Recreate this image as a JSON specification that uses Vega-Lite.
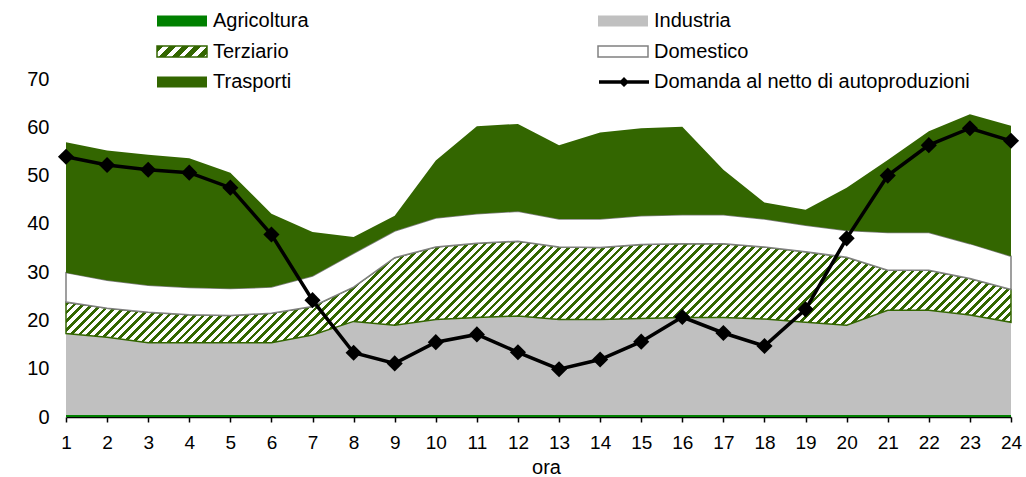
{
"$schema": "https://vega.github.io/schema/vega-lite/v6.json",
"width": 945,
"height": 338,
"autosize": {"type": "none"},
"padding": {"left": 66, "top": 79, "right": 15, "bottom": 60},
"config": {
  "font": "Liberation Sans",
  "view": {"stroke": null},
  "axis": {"grid": false, "labelColor": "black", "titleColor": "black", "labelFont": "Liberation Sans", "titleFont": "Liberation Sans"},
  "legend": {"labelFont": "Liberation Sans", "labelColor": "black", "labelLimit": 500}
},
"datasets": {
  "settori": [
    {"ora":1,"settore":"Agricoltura","ord":1,"valore":0.4},{"ora":1,"settore":"Industria","ord":2,"valore":16.9},{"ora":1,"settore":"Terziario","ord":3,"valore":6.5},{"ora":1,"settore":"Domestico","ord":4,"valore":6.1},{"ora":1,"settore":"Trasporti","ord":5,"valore":27.0},
    {"ora":2,"settore":"Agricoltura","ord":1,"valore":0.4},{"ora":2,"settore":"Industria","ord":2,"valore":16.1},{"ora":2,"settore":"Terziario","ord":3,"valore":6.0},{"ora":2,"settore":"Domestico","ord":4,"valore":5.8},{"ora":2,"settore":"Trasporti","ord":5,"valore":26.9},
    {"ora":3,"settore":"Agricoltura","ord":1,"valore":0.4},{"ora":3,"settore":"Industria","ord":2,"valore":15.0},{"ora":3,"settore":"Terziario","ord":3,"valore":6.3},{"ora":3,"settore":"Domestico","ord":4,"valore":5.6},{"ora":3,"settore":"Trasporti","ord":5,"valore":27.0},
    {"ora":4,"settore":"Agricoltura","ord":1,"valore":0.4},{"ora":4,"settore":"Industria","ord":2,"valore":15.0},{"ora":4,"settore":"Terziario","ord":3,"valore":5.8},{"ora":4,"settore":"Domestico","ord":4,"valore":5.6},{"ora":4,"settore":"Trasporti","ord":5,"valore":26.8},
    {"ora":5,"settore":"Agricoltura","ord":1,"valore":0.4},{"ora":5,"settore":"Industria","ord":2,"valore":15.0},{"ora":5,"settore":"Terziario","ord":3,"valore":5.6},{"ora":5,"settore":"Domestico","ord":4,"valore":5.6},{"ora":5,"settore":"Trasporti","ord":5,"valore":24.0},
    {"ora":6,"settore":"Agricoltura","ord":1,"valore":0.4},{"ora":6,"settore":"Industria","ord":2,"valore":15.0},{"ora":6,"settore":"Terziario","ord":3,"valore":6.1},{"ora":6,"settore":"Domestico","ord":4,"valore":5.4},{"ora":6,"settore":"Trasporti","ord":5,"valore":15.2},
    {"ora":7,"settore":"Agricoltura","ord":1,"valore":0.4},{"ora":7,"settore":"Industria","ord":2,"valore":16.6},{"ora":7,"settore":"Terziario","ord":3,"valore":5.9},{"ora":7,"settore":"Domestico","ord":4,"valore":6.3},{"ora":7,"settore":"Trasporti","ord":5,"valore":9.1},
    {"ora":8,"settore":"Agricoltura","ord":1,"valore":0.4},{"ora":8,"settore":"Industria","ord":2,"valore":19.4},{"ora":8,"settore":"Terziario","ord":3,"valore":7.1},{"ora":8,"settore":"Domestico","ord":4,"valore":7.0},{"ora":8,"settore":"Trasporti","ord":5,"valore":3.4},
    {"ora":9,"settore":"Agricoltura","ord":1,"valore":0.4},{"ora":9,"settore":"Industria","ord":2,"valore":18.6},{"ora":9,"settore":"Terziario","ord":3,"valore":14.0},{"ora":9,"settore":"Domestico","ord":4,"valore":5.5},{"ora":9,"settore":"Trasporti","ord":5,"valore":3.2},
    {"ora":10,"settore":"Agricoltura","ord":1,"valore":0.4},{"ora":10,"settore":"Industria","ord":2,"valore":19.8},{"ora":10,"settore":"Terziario","ord":3,"valore":15.0},{"ora":10,"settore":"Domestico","ord":4,"valore":6.0},{"ora":10,"settore":"Trasporti","ord":5,"valore":11.9},
    {"ora":11,"settore":"Agricoltura","ord":1,"valore":0.4},{"ora":11,"settore":"Industria","ord":2,"valore":20.2},{"ora":11,"settore":"Terziario","ord":3,"valore":15.4},{"ora":11,"settore":"Domestico","ord":4,"valore":6.1},{"ora":11,"settore":"Trasporti","ord":5,"valore":18.1},
    {"ora":12,"settore":"Agricoltura","ord":1,"valore":0.4},{"ora":12,"settore":"Industria","ord":2,"valore":20.5},{"ora":12,"settore":"Terziario","ord":3,"valore":15.5},{"ora":12,"settore":"Domestico","ord":4,"valore":6.2},{"ora":12,"settore":"Trasporti","ord":5,"valore":18.1},
    {"ora":13,"settore":"Agricoltura","ord":1,"valore":0.4},{"ora":13,"settore":"Industria","ord":2,"valore":19.8},{"ora":13,"settore":"Terziario","ord":3,"valore":15.0},{"ora":13,"settore":"Domestico","ord":4,"valore":5.8},{"ora":13,"settore":"Trasporti","ord":5,"valore":15.3},
    {"ora":14,"settore":"Agricoltura","ord":1,"valore":0.4},{"ora":14,"settore":"Industria","ord":2,"valore":19.8},{"ora":14,"settore":"Terziario","ord":3,"valore":14.9},{"ora":14,"settore":"Domestico","ord":4,"valore":5.9},{"ora":14,"settore":"Trasporti","ord":5,"valore":17.9},
    {"ora":15,"settore":"Agricoltura","ord":1,"valore":0.4},{"ora":15,"settore":"Industria","ord":2,"valore":20.0},{"ora":15,"settore":"Terziario","ord":3,"valore":15.3},{"ora":15,"settore":"Domestico","ord":4,"valore":6.0},{"ora":15,"settore":"Trasporti","ord":5,"valore":18.1},
    {"ora":16,"settore":"Agricoltura","ord":1,"valore":0.4},{"ora":16,"settore":"Industria","ord":2,"valore":20.2},{"ora":16,"settore":"Terziario","ord":3,"valore":15.3},{"ora":16,"settore":"Domestico","ord":4,"valore":6.0},{"ora":16,"settore":"Trasporti","ord":5,"valore":18.2},
    {"ora":17,"settore":"Agricoltura","ord":1,"valore":0.4},{"ora":17,"settore":"Industria","ord":2,"valore":20.2},{"ora":17,"settore":"Terziario","ord":3,"valore":15.3},{"ora":17,"settore":"Domestico","ord":4,"valore":6.0},{"ora":17,"settore":"Trasporti","ord":5,"valore":9.3},
    {"ora":18,"settore":"Agricoltura","ord":1,"valore":0.4},{"ora":18,"settore":"Industria","ord":2,"valore":19.9},{"ora":18,"settore":"Terziario","ord":3,"valore":14.9},{"ora":18,"settore":"Domestico","ord":4,"valore":5.8},{"ora":18,"settore":"Trasporti","ord":5,"valore":3.4},
    {"ora":19,"settore":"Agricoltura","ord":1,"valore":0.4},{"ora":19,"settore":"Industria","ord":2,"valore":19.2},{"ora":19,"settore":"Terziario","ord":3,"valore":14.6},{"ora":19,"settore":"Domestico","ord":4,"valore":5.5},{"ora":19,"settore":"Trasporti","ord":5,"valore":3.2},
    {"ora":20,"settore":"Agricoltura","ord":1,"valore":0.4},{"ora":20,"settore":"Industria","ord":2,"valore":18.6},{"ora":20,"settore":"Terziario","ord":3,"valore":14.1},{"ora":20,"settore":"Domestico","ord":4,"valore":5.5},{"ora":20,"settore":"Trasporti","ord":5,"valore":8.9},
    {"ora":21,"settore":"Agricoltura","ord":1,"valore":0.4},{"ora":21,"settore":"Industria","ord":2,"valore":21.7},{"ora":21,"settore":"Terziario","ord":3,"valore":8.3},{"ora":21,"settore":"Domestico","ord":4,"valore":7.8},{"ora":21,"settore":"Trasporti","ord":5,"valore":15.0},
    {"ora":22,"settore":"Agricoltura","ord":1,"valore":0.4},{"ora":22,"settore":"Industria","ord":2,"valore":21.7},{"ora":22,"settore":"Terziario","ord":3,"valore":8.3},{"ora":22,"settore":"Domestico","ord":4,"valore":7.8},{"ora":22,"settore":"Trasporti","ord":5,"valore":21.0},
    {"ora":23,"settore":"Agricoltura","ord":1,"valore":0.4},{"ora":23,"settore":"Industria","ord":2,"valore":20.7},{"ora":23,"settore":"Terziario","ord":3,"valore":7.6},{"ora":23,"settore":"Domestico","ord":4,"valore":7.2},{"ora":23,"settore":"Trasporti","ord":5,"valore":26.8},
    {"ora":24,"settore":"Agricoltura","ord":1,"valore":0.4},{"ora":24,"settore":"Industria","ord":2,"valore":19.2},{"ora":24,"settore":"Terziario","ord":3,"valore":6.8},{"ora":24,"settore":"Domestico","ord":4,"valore":6.9},{"ora":24,"settore":"Trasporti","ord":5,"valore":27.0}
  ],
  "domanda": [
    {"ora":1,"domanda":53.9},{"ora":2,"domanda":52.2},{"ora":3,"domanda":51.2},{"ora":4,"domanda":50.6},{"ora":5,"domanda":47.5},{"ora":6,"domanda":37.8},
    {"ora":7,"domanda":24.2},{"ora":8,"domanda":13.3},{"ora":9,"domanda":11.1},{"ora":10,"domanda":15.5},{"ora":11,"domanda":17.1},{"ora":12,"domanda":13.4},
    {"ora":13,"domanda":9.9},{"ora":14,"domanda":11.9},{"ora":15,"domanda":15.6},{"ora":16,"domanda":20.7},{"ora":17,"domanda":17.4},{"ora":18,"domanda":14.7},
    {"ora":19,"domanda":22.3},{"ora":20,"domanda":37.0},{"ora":21,"domanda":50.0},{"ora":22,"domanda":56.3},{"ora":23,"domanda":59.8},{"ora":24,"domanda":57.2}
  ]
},
"encoding": {
  "x": {"field": "ora", "type": "quantitative",
    "scale": {"domain": [1, 24], "nice": false, "zero": false},
    "axis": {"title": "ora", "values": [1,2,3,4,5,6,7,8,9,10,11,12,13,14,15,16,17,18,19,20,21,22,23,24],
      "labelFontSize": 19, "labelFlush": false, "labelOverlap": false, "labelPadding": 11,
      "tickSize": 5, "tickColor": "black", "tickWidth": 1.5,
      "domainColor": "black", "domainWidth": 1.5,
      "titleFontSize": 20, "titleFontWeight": "normal", "titlePadding": 5, "titleX": 480}}
},
"layer": [
  {
    "data": {"name": "settori"},
    "transform": [
      {"stack": "valore", "groupby": ["ora"], "sort": [{"field": "ord"}], "as": ["y0", "y1"]},
      {"filter": "datum.settore === 'Terziario'"}
    ],
    "mark": {"type": "area", "fill": {"gradient": "linear", "x1": 0, "y1": 0, "x2": 1.144, "y2": 0.1229, "stops": [
      {"offset":0.048,"color":"#360"},{"offset":0.0515,"color":"#360"},{"offset":0.0515,"color":"#fff"},{"offset":0.056,"color":"#fff"},
      {"offset":0.056,"color":"#360"},{"offset":0.0595,"color":"#360"},{"offset":0.0595,"color":"#fff"},{"offset":0.064,"color":"#fff"},
      {"offset":0.064,"color":"#360"},{"offset":0.0675,"color":"#360"},{"offset":0.0675,"color":"#fff"},{"offset":0.072,"color":"#fff"},
      {"offset":0.072,"color":"#360"},{"offset":0.0755,"color":"#360"},{"offset":0.0755,"color":"#fff"},{"offset":0.08,"color":"#fff"},
      {"offset":0.08,"color":"#360"},{"offset":0.0835,"color":"#360"},{"offset":0.0835,"color":"#fff"},{"offset":0.088,"color":"#fff"},
      {"offset":0.088,"color":"#360"},{"offset":0.0915,"color":"#360"},{"offset":0.0915,"color":"#fff"},{"offset":0.096,"color":"#fff"},
      {"offset":0.096,"color":"#360"},{"offset":0.0995,"color":"#360"},{"offset":0.0995,"color":"#fff"},{"offset":0.104,"color":"#fff"},
      {"offset":0.104,"color":"#360"},{"offset":0.1075,"color":"#360"},{"offset":0.1075,"color":"#fff"},{"offset":0.112,"color":"#fff"},
      {"offset":0.112,"color":"#360"},{"offset":0.1155,"color":"#360"},{"offset":0.1155,"color":"#fff"},{"offset":0.12,"color":"#fff"},
      {"offset":0.12,"color":"#360"},{"offset":0.1235,"color":"#360"},{"offset":0.1235,"color":"#fff"},{"offset":0.128,"color":"#fff"},
      {"offset":0.128,"color":"#360"},{"offset":0.1315,"color":"#360"},{"offset":0.1315,"color":"#fff"},{"offset":0.136,"color":"#fff"},
      {"offset":0.136,"color":"#360"},{"offset":0.1395,"color":"#360"},{"offset":0.1395,"color":"#fff"},{"offset":0.144,"color":"#fff"},
      {"offset":0.144,"color":"#360"},{"offset":0.1475,"color":"#360"},{"offset":0.1475,"color":"#fff"},{"offset":0.152,"color":"#fff"},
      {"offset":0.152,"color":"#360"},{"offset":0.1555,"color":"#360"},{"offset":0.1555,"color":"#fff"},{"offset":0.16,"color":"#fff"},
      {"offset":0.16,"color":"#360"},{"offset":0.1635,"color":"#360"},{"offset":0.1635,"color":"#fff"},{"offset":0.168,"color":"#fff"},
      {"offset":0.168,"color":"#360"},{"offset":0.1715,"color":"#360"},{"offset":0.1715,"color":"#fff"},{"offset":0.176,"color":"#fff"},
      {"offset":0.176,"color":"#360"},{"offset":0.1795,"color":"#360"},{"offset":0.1795,"color":"#fff"},{"offset":0.184,"color":"#fff"},
      {"offset":0.184,"color":"#360"},{"offset":0.1875,"color":"#360"},{"offset":0.1875,"color":"#fff"},{"offset":0.192,"color":"#fff"},
      {"offset":0.192,"color":"#360"},{"offset":0.1955,"color":"#360"},{"offset":0.1955,"color":"#fff"},{"offset":0.2,"color":"#fff"},
      {"offset":0.2,"color":"#360"},{"offset":0.2035,"color":"#360"},{"offset":0.2035,"color":"#fff"},{"offset":0.208,"color":"#fff"},
      {"offset":0.208,"color":"#360"},{"offset":0.2115,"color":"#360"},{"offset":0.2115,"color":"#fff"},{"offset":0.216,"color":"#fff"},
      {"offset":0.216,"color":"#360"},{"offset":0.2195,"color":"#360"},{"offset":0.2195,"color":"#fff"},{"offset":0.224,"color":"#fff"},
      {"offset":0.224,"color":"#360"},{"offset":0.2275,"color":"#360"},{"offset":0.2275,"color":"#fff"},{"offset":0.232,"color":"#fff"},
      {"offset":0.232,"color":"#360"},{"offset":0.2355,"color":"#360"},{"offset":0.2355,"color":"#fff"},{"offset":0.24,"color":"#fff"},
      {"offset":0.24,"color":"#360"},{"offset":0.2435,"color":"#360"},{"offset":0.2435,"color":"#fff"},{"offset":0.248,"color":"#fff"},
      {"offset":0.248,"color":"#360"},{"offset":0.2515,"color":"#360"},{"offset":0.2515,"color":"#fff"},{"offset":0.256,"color":"#fff"},
      {"offset":0.256,"color":"#360"},{"offset":0.2595,"color":"#360"},{"offset":0.2595,"color":"#fff"},{"offset":0.264,"color":"#fff"},
      {"offset":0.264,"color":"#360"},{"offset":0.2675,"color":"#360"},{"offset":0.2675,"color":"#fff"},{"offset":0.272,"color":"#fff"},
      {"offset":0.272,"color":"#360"},{"offset":0.2755,"color":"#360"},{"offset":0.2755,"color":"#fff"},{"offset":0.28,"color":"#fff"},
      {"offset":0.28,"color":"#360"},{"offset":0.2835,"color":"#360"},{"offset":0.2835,"color":"#fff"},{"offset":0.288,"color":"#fff"},
      {"offset":0.288,"color":"#360"},{"offset":0.2915,"color":"#360"},{"offset":0.2915,"color":"#fff"},{"offset":0.296,"color":"#fff"},
      {"offset":0.296,"color":"#360"},{"offset":0.2995,"color":"#360"},{"offset":0.2995,"color":"#fff"},{"offset":0.304,"color":"#fff"},
      {"offset":0.304,"color":"#360"},{"offset":0.3075,"color":"#360"},{"offset":0.3075,"color":"#fff"},{"offset":0.312,"color":"#fff"},
      {"offset":0.312,"color":"#360"},{"offset":0.3155,"color":"#360"},{"offset":0.3155,"color":"#fff"},{"offset":0.32,"color":"#fff"},
      {"offset":0.32,"color":"#360"},{"offset":0.3235,"color":"#360"},{"offset":0.3235,"color":"#fff"},{"offset":0.328,"color":"#fff"},
      {"offset":0.328,"color":"#360"},{"offset":0.3315,"color":"#360"},{"offset":0.3315,"color":"#fff"},{"offset":0.336,"color":"#fff"},
      {"offset":0.336,"color":"#360"},{"offset":0.3395,"color":"#360"},{"offset":0.3395,"color":"#fff"},{"offset":0.344,"color":"#fff"},
      {"offset":0.344,"color":"#360"},{"offset":0.3475,"color":"#360"},{"offset":0.3475,"color":"#fff"},{"offset":0.352,"color":"#fff"},
      {"offset":0.352,"color":"#360"},{"offset":0.3555,"color":"#360"},{"offset":0.3555,"color":"#fff"},{"offset":0.36,"color":"#fff"},
      {"offset":0.36,"color":"#360"},{"offset":0.3635,"color":"#360"},{"offset":0.3635,"color":"#fff"},{"offset":0.368,"color":"#fff"},
      {"offset":0.368,"color":"#360"},{"offset":0.3715,"color":"#360"},{"offset":0.3715,"color":"#fff"},{"offset":0.376,"color":"#fff"},
      {"offset":0.376,"color":"#360"},{"offset":0.3795,"color":"#360"},{"offset":0.3795,"color":"#fff"},{"offset":0.384,"color":"#fff"},
      {"offset":0.384,"color":"#360"},{"offset":0.3875,"color":"#360"},{"offset":0.3875,"color":"#fff"},{"offset":0.392,"color":"#fff"},
      {"offset":0.392,"color":"#360"},{"offset":0.3955,"color":"#360"},{"offset":0.3955,"color":"#fff"},{"offset":0.4,"color":"#fff"},
      {"offset":0.4,"color":"#360"},{"offset":0.4035,"color":"#360"},{"offset":0.4035,"color":"#fff"},{"offset":0.408,"color":"#fff"},
      {"offset":0.408,"color":"#360"},{"offset":0.4115,"color":"#360"},{"offset":0.4115,"color":"#fff"},{"offset":0.416,"color":"#fff"},
      {"offset":0.416,"color":"#360"},{"offset":0.4195,"color":"#360"},{"offset":0.4195,"color":"#fff"},{"offset":0.424,"color":"#fff"},
      {"offset":0.424,"color":"#360"},{"offset":0.4275,"color":"#360"},{"offset":0.4275,"color":"#fff"},{"offset":0.432,"color":"#fff"},
      {"offset":0.432,"color":"#360"},{"offset":0.4355,"color":"#360"},{"offset":0.4355,"color":"#fff"},{"offset":0.44,"color":"#fff"},
      {"offset":0.44,"color":"#360"},{"offset":0.4435,"color":"#360"},{"offset":0.4435,"color":"#fff"},{"offset":0.448,"color":"#fff"},
      {"offset":0.448,"color":"#360"},{"offset":0.4515,"color":"#360"},{"offset":0.4515,"color":"#fff"},{"offset":0.456,"color":"#fff"},
      {"offset":0.456,"color":"#360"},{"offset":0.4595,"color":"#360"},{"offset":0.4595,"color":"#fff"},{"offset":0.464,"color":"#fff"},
      {"offset":0.464,"color":"#360"},{"offset":0.4675,"color":"#360"},{"offset":0.4675,"color":"#fff"},{"offset":0.472,"color":"#fff"},
      {"offset":0.472,"color":"#360"},{"offset":0.4755,"color":"#360"},{"offset":0.4755,"color":"#fff"},{"offset":0.48,"color":"#fff"},
      {"offset":0.48,"color":"#360"},{"offset":0.4835,"color":"#360"},{"offset":0.4835,"color":"#fff"},{"offset":0.488,"color":"#fff"},
      {"offset":0.488,"color":"#360"},{"offset":0.4915,"color":"#360"},{"offset":0.4915,"color":"#fff"},{"offset":0.496,"color":"#fff"},
      {"offset":0.496,"color":"#360"},{"offset":0.4995,"color":"#360"},{"offset":0.4995,"color":"#fff"},{"offset":0.504,"color":"#fff"},
      {"offset":0.504,"color":"#360"},{"offset":0.5075,"color":"#360"},{"offset":0.5075,"color":"#fff"},{"offset":0.512,"color":"#fff"},
      {"offset":0.512,"color":"#360"},{"offset":0.5155,"color":"#360"},{"offset":0.5155,"color":"#fff"},{"offset":0.52,"color":"#fff"},
      {"offset":0.52,"color":"#360"},{"offset":0.5235,"color":"#360"},{"offset":0.5235,"color":"#fff"},{"offset":0.528,"color":"#fff"},
      {"offset":0.528,"color":"#360"},{"offset":0.5315,"color":"#360"},{"offset":0.5315,"color":"#fff"},{"offset":0.536,"color":"#fff"},
      {"offset":0.536,"color":"#360"},{"offset":0.5395,"color":"#360"},{"offset":0.5395,"color":"#fff"},{"offset":0.544,"color":"#fff"},
      {"offset":0.544,"color":"#360"},{"offset":0.5475,"color":"#360"},{"offset":0.5475,"color":"#fff"},{"offset":0.552,"color":"#fff"},
      {"offset":0.552,"color":"#360"},{"offset":0.5555,"color":"#360"},{"offset":0.5555,"color":"#fff"},{"offset":0.56,"color":"#fff"},
      {"offset":0.56,"color":"#360"},{"offset":0.5635,"color":"#360"},{"offset":0.5635,"color":"#fff"},{"offset":0.568,"color":"#fff"},
      {"offset":0.568,"color":"#360"},{"offset":0.5715,"color":"#360"},{"offset":0.5715,"color":"#fff"},{"offset":0.576,"color":"#fff"},
      {"offset":0.576,"color":"#360"},{"offset":0.5795,"color":"#360"},{"offset":0.5795,"color":"#fff"},{"offset":0.584,"color":"#fff"},
      {"offset":0.584,"color":"#360"},{"offset":0.5875,"color":"#360"},{"offset":0.5875,"color":"#fff"},{"offset":0.592,"color":"#fff"},
      {"offset":0.592,"color":"#360"},{"offset":0.5955,"color":"#360"},{"offset":0.5955,"color":"#fff"},{"offset":0.6,"color":"#fff"},
      {"offset":0.6,"color":"#360"},{"offset":0.6035,"color":"#360"},{"offset":0.6035,"color":"#fff"},{"offset":0.608,"color":"#fff"},
      {"offset":0.608,"color":"#360"},{"offset":0.6115,"color":"#360"},{"offset":0.6115,"color":"#fff"},{"offset":0.616,"color":"#fff"},
      {"offset":0.616,"color":"#360"},{"offset":0.6195,"color":"#360"},{"offset":0.6195,"color":"#fff"},{"offset":0.624,"color":"#fff"},
      {"offset":0.624,"color":"#360"},{"offset":0.6275,"color":"#360"},{"offset":0.6275,"color":"#fff"},{"offset":0.632,"color":"#fff"},
      {"offset":0.632,"color":"#360"},{"offset":0.6355,"color":"#360"},{"offset":0.6355,"color":"#fff"},{"offset":0.64,"color":"#fff"},
      {"offset":0.64,"color":"#360"},{"offset":0.6435,"color":"#360"},{"offset":0.6435,"color":"#fff"},{"offset":0.648,"color":"#fff"},
      {"offset":0.648,"color":"#360"},{"offset":0.6515,"color":"#360"},{"offset":0.6515,"color":"#fff"},{"offset":0.656,"color":"#fff"},
      {"offset":0.656,"color":"#360"},{"offset":0.6595,"color":"#360"},{"offset":0.6595,"color":"#fff"},{"offset":0.664,"color":"#fff"},
      {"offset":0.664,"color":"#360"},{"offset":0.6675,"color":"#360"},{"offset":0.6675,"color":"#fff"},{"offset":0.672,"color":"#fff"},
      {"offset":0.672,"color":"#360"},{"offset":0.6755,"color":"#360"},{"offset":0.6755,"color":"#fff"},{"offset":0.68,"color":"#fff"},
      {"offset":0.68,"color":"#360"},{"offset":0.6835,"color":"#360"},{"offset":0.6835,"color":"#fff"},{"offset":0.688,"color":"#fff"},
      {"offset":0.688,"color":"#360"},{"offset":0.6915,"color":"#360"},{"offset":0.6915,"color":"#fff"},{"offset":0.696,"color":"#fff"},
      {"offset":0.696,"color":"#360"},{"offset":0.6995,"color":"#360"},{"offset":0.6995,"color":"#fff"},{"offset":0.704,"color":"#fff"},
      {"offset":0.704,"color":"#360"},{"offset":0.7075,"color":"#360"},{"offset":0.7075,"color":"#fff"},{"offset":0.712,"color":"#fff"},
      {"offset":0.712,"color":"#360"},{"offset":0.7155,"color":"#360"},{"offset":0.7155,"color":"#fff"},{"offset":0.72,"color":"#fff"},
      {"offset":0.72,"color":"#360"},{"offset":0.7235,"color":"#360"},{"offset":0.7235,"color":"#fff"},{"offset":0.728,"color":"#fff"},
      {"offset":0.728,"color":"#360"},{"offset":0.7315,"color":"#360"},{"offset":0.7315,"color":"#fff"},{"offset":0.736,"color":"#fff"},
      {"offset":0.736,"color":"#360"},{"offset":0.7395,"color":"#360"},{"offset":0.7395,"color":"#fff"},{"offset":0.744,"color":"#fff"},
      {"offset":0.744,"color":"#360"},{"offset":0.7475,"color":"#360"},{"offset":0.7475,"color":"#fff"},{"offset":0.752,"color":"#fff"},
      {"offset":0.752,"color":"#360"},{"offset":0.7555,"color":"#360"},{"offset":0.7555,"color":"#fff"},{"offset":0.76,"color":"#fff"},
      {"offset":0.76,"color":"#360"},{"offset":0.7635,"color":"#360"},{"offset":0.7635,"color":"#fff"},{"offset":0.768,"color":"#fff"},
      {"offset":0.768,"color":"#360"},{"offset":0.7715,"color":"#360"},{"offset":0.7715,"color":"#fff"},{"offset":0.776,"color":"#fff"},
      {"offset":0.776,"color":"#360"},{"offset":0.7795,"color":"#360"},{"offset":0.7795,"color":"#fff"},{"offset":0.784,"color":"#fff"},
      {"offset":0.784,"color":"#360"},{"offset":0.7875,"color":"#360"},{"offset":0.7875,"color":"#fff"},{"offset":0.792,"color":"#fff"},
      {"offset":0.792,"color":"#360"},{"offset":0.7955,"color":"#360"},{"offset":0.7955,"color":"#fff"},{"offset":0.8,"color":"#fff"},
      {"offset":0.8,"color":"#360"},{"offset":0.8035,"color":"#360"},{"offset":0.8035,"color":"#fff"},{"offset":0.808,"color":"#fff"},
      {"offset":0.808,"color":"#360"},{"offset":0.8115,"color":"#360"},{"offset":0.8115,"color":"#fff"},{"offset":0.816,"color":"#fff"},
      {"offset":0.816,"color":"#360"},{"offset":0.8195,"color":"#360"},{"offset":0.8195,"color":"#fff"},{"offset":0.824,"color":"#fff"},
      {"offset":0.824,"color":"#360"},{"offset":0.8275,"color":"#360"},{"offset":0.8275,"color":"#fff"},{"offset":0.832,"color":"#fff"},
      {"offset":0.832,"color":"#360"},{"offset":0.8355,"color":"#360"},{"offset":0.8355,"color":"#fff"},{"offset":0.84,"color":"#fff"},
      {"offset":0.84,"color":"#360"},{"offset":0.8435,"color":"#360"},{"offset":0.8435,"color":"#fff"},{"offset":0.848,"color":"#fff"},
      {"offset":0.848,"color":"#360"},{"offset":0.8515,"color":"#360"},{"offset":0.8515,"color":"#fff"},{"offset":0.856,"color":"#fff"},
      {"offset":0.856,"color":"#360"},{"offset":0.8595,"color":"#360"},{"offset":0.8595,"color":"#fff"},{"offset":0.864,"color":"#fff"},
      {"offset":0.864,"color":"#360"},{"offset":0.8675,"color":"#360"},{"offset":0.8675,"color":"#fff"},{"offset":0.872,"color":"#fff"},
      {"offset":0.872,"color":"#360"},{"offset":0.8755,"color":"#360"},{"offset":0.8755,"color":"#fff"},{"offset":0.88,"color":"#fff"},
      {"offset":0.88,"color":"#360"},{"offset":0.8835,"color":"#360"},{"offset":0.8835,"color":"#fff"},{"offset":0.888,"color":"#fff"},
      {"offset":0.888,"color":"#360"},{"offset":0.8915,"color":"#360"},{"offset":0.8915,"color":"#fff"},{"offset":0.896,"color":"#fff"},
      {"offset":0.896,"color":"#360"},{"offset":0.8995,"color":"#360"},{"offset":0.8995,"color":"#fff"},{"offset":0.904,"color":"#fff"},
      {"offset":0.904,"color":"#360"},{"offset":0.9075,"color":"#360"},{"offset":0.9075,"color":"#fff"},{"offset":0.912,"color":"#fff"},
      {"offset":0.912,"color":"#360"},{"offset":0.9155,"color":"#360"},{"offset":0.9155,"color":"#fff"},{"offset":0.92,"color":"#fff"},
      {"offset":0.92,"color":"#360"},{"offset":0.9235,"color":"#360"},{"offset":0.9235,"color":"#fff"},{"offset":0.928,"color":"#fff"},
      {"offset":0.928,"color":"#360"},{"offset":0.9315,"color":"#360"},{"offset":0.9315,"color":"#fff"},{"offset":0.936,"color":"#fff"},
      {"offset":0.936,"color":"#360"},{"offset":0.9395,"color":"#360"},{"offset":0.9395,"color":"#fff"},{"offset":0.944,"color":"#fff"},
      {"offset":0.944,"color":"#360"},{"offset":0.9475,"color":"#360"},{"offset":0.9475,"color":"#fff"},{"offset":0.952,"color":"#fff"}
    ]}},
    "encoding": {
      "y": {"field": "y1", "type": "quantitative",
        "scale": {"domain": [0, 70], "nice": false},
        "axis": {"title": null, "values": [0,10,20,30,40,50,60,70], "labelFontSize": 20, "ticks": false, "tickSize": 0, "domain": false, "labelPadding": 17}},
      "y2": {"field": "y0"}
    }
  },
  {
    "data": {"name": "settori"},
    "transform": [
      {"stack": "valore", "groupby": ["ora"], "sort": [{"field": "ord"}], "as": ["y0", "y1"]}
    ],
    "mark": {"type": "area", "strokeWidth": 1.5},
    "encoding": {
      "y": {"field": "y1", "type": "quantitative"},
      "y2": {"field": "y0"},
      "fillOpacity": {"condition": {"test": "datum.settore === 'Terziario'", "value": 0}, "value": 1},
      "fill": {"field": "settore", "type": "nominal",
        "scale": {"domain": ["Agricoltura", "Terziario", "Trasporti", "Industria", "Domestico"],
                  "range": ["#008000",
                    {"expr": "{gradient: 'linear', x1: 0, y1: 0, x2: 1.2, y2: 0.264, stops: [{offset: 0, color: '#360'}, {offset: 0.11, color: '#360'}, {offset: 0.11, color: '#fff'}, {offset: 0.2, color: '#fff'}, {offset: 0.2, color: '#360'}, {offset: 0.31, color: '#360'}, {offset: 0.31, color: '#fff'}, {offset: 0.4, color: '#fff'}, {offset: 0.4, color: '#360'}, {offset: 0.51, color: '#360'}, {offset: 0.51, color: '#fff'}, {offset: 0.6, color: '#fff'}, {offset: 0.6, color: '#360'}, {offset: 0.71, color: '#360'}, {offset: 0.71, color: '#fff'}, {offset: 0.8, color: '#fff'}, {offset: 0.8, color: '#360'}, {offset: 0.91, color: '#360'}, {offset: 0.91, color: '#fff'}, {offset: 1, color: '#fff'}]}"},
                    "#336600", "#C0C0C0", "#FFFFFF"]},
        "legend": {"title": null, "orient": "none", "legendX": 90, "legendY": -68, "columns": 2,
          "columnPadding": 288, "rowPadding": 10.5, "clipHeight": 20, "padding": 0,
          "symbolType": "M-1,-0.22H1V0.22H-1Z", "symbolSize": 2500, "labelOffset": 5, "labelFontSize": 20}},
      "stroke": {"field": "settore", "type": "nominal",
        "scale": {"domain": ["Agricoltura", "Terziario", "Trasporti", "Industria", "Domestico"],
                  "range": ["transparent", "#336600", "transparent", "transparent", "#808080"]},
        "legend": null}
    }
  },
  {
    "data": {"name": "domanda"},
    "mark": {"type": "line", "strokeWidth": 3.5, "color": "black"},
    "encoding": {
      "y": {"field": "domanda", "type": "quantitative"}
    }
  },
  {
    "data": {"name": "domanda"},
    "mark": {"type": "point", "shape": "diamond", "filled": true, "size": 260, "opacity": 1, "strokeWidth": 0},
    "encoding": {
      "y": {"field": "domanda", "type": "quantitative"},
      "color": {"datum": "Domanda al netto di autoproduzioni", "type": "nominal",
        "scale": {"range": ["black"]},
        "legend": {"title": null, "orient": "none", "legendX": 533, "legendY": -7, "clipHeight": 20, "padding": 0,
          "symbolType": "M-1,-0.07H1V0.07H-1ZM0,-0.2L0.2,0L0,0.2L-0.2,0Z", "symbolSize": 2500,
          "symbolStrokeWidth": 0, "labelOffset": 5, "labelFontSize": 20}}
    }
  }
]
}
